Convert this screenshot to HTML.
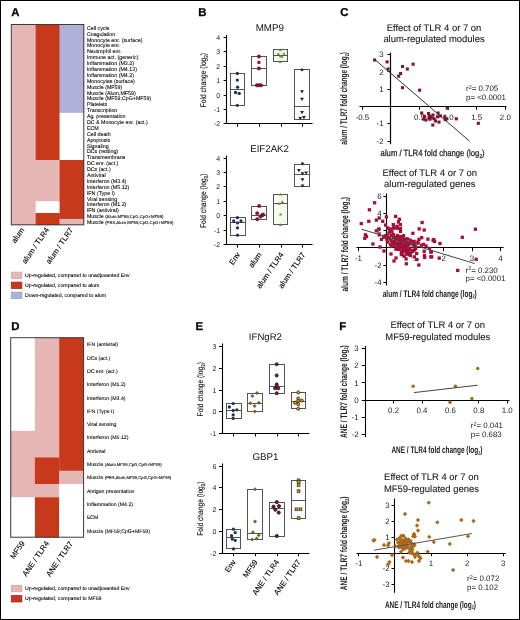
<!DOCTYPE html>
<html><head><meta charset="utf-8"><style>
html,body{margin:0;padding:0;background:#fff;}
svg{display:block;font-family:"Liberation Sans", sans-serif;will-change:transform;text-rendering:geometricPrecision;}
</style></head><body>
<svg width="520" height="620" viewBox="0 0 520 620">
<rect x="0" y="0" width="520" height="620" fill="#fff"/>
<text x="11.20" y="15.90" font-size="11.4" text-anchor="start" fill="#000" font-weight="bold" stroke="#000" stroke-width="0.25">A</text>
<text x="198.30" y="15.80" font-size="11.4" text-anchor="start" fill="#000" font-weight="bold" stroke="#000" stroke-width="0.25">B</text>
<text x="340.20" y="16.30" font-size="11.4" text-anchor="start" fill="#000" font-weight="bold" stroke="#000" stroke-width="0.25">C</text>
<text x="11.20" y="329.80" font-size="11.4" text-anchor="start" fill="#000" font-weight="bold" stroke="#000" stroke-width="0.25">D</text>
<text x="195.50" y="330.20" font-size="11.4" text-anchor="start" fill="#000" font-weight="bold" stroke="#000" stroke-width="0.25">E</text>
<text x="339.20" y="330.10" font-size="11.4" text-anchor="start" fill="#000" font-weight="bold" stroke="#000" stroke-width="0.25">F</text>
<rect x="11.30" y="24.50" width="24.70" height="200.60" fill="#E5B6B3"/>
<rect x="35.70" y="24.50" width="24.20" height="135.80" fill="#C7391B"/>
<rect x="35.70" y="160.00" width="24.20" height="41.54" fill="#E5B6B3"/>
<rect x="35.70" y="201.24" width="24.20" height="12.08" fill="#FFFFFF"/>
<rect x="35.70" y="213.02" width="24.20" height="12.08" fill="#C7391B"/>
<rect x="59.60" y="24.50" width="24.50" height="88.67" fill="#AEB2D8"/>
<rect x="59.60" y="112.87" width="24.50" height="47.43" fill="#FFFFFF"/>
<rect x="59.60" y="160.00" width="24.50" height="59.21" fill="#C7391B"/>
<rect x="59.60" y="218.91" width="24.50" height="6.19" fill="#E5B6B3"/>
<rect x="11.30" y="24.50" width="72.50" height="200.30" fill="none" stroke="#3a3a3a" stroke-width="1"/>
<text x="86.90" y="29.75" font-size="5.3" text-anchor="start" fill="#000" stroke="#000" stroke-width="0.08">Cell cycle</text>
<text x="86.90" y="35.64" font-size="5.3" text-anchor="start" fill="#000" stroke="#000" stroke-width="0.08">Coagulation</text>
<text x="86.90" y="41.53" font-size="5.3" text-anchor="start" fill="#000" stroke="#000" stroke-width="0.08">Monocyte enr. (surface)</text>
<text x="86.90" y="47.42" font-size="5.3" text-anchor="start" fill="#000" stroke="#000" stroke-width="0.08">Monocyte enr.</text>
<text x="86.90" y="53.31" font-size="5.3" text-anchor="start" fill="#000" stroke="#000" stroke-width="0.08">Neutrophil enr.</text>
<text x="86.90" y="59.20" font-size="5.3" text-anchor="start" fill="#000" stroke="#000" stroke-width="0.08">Immune act. (generic)</text>
<text x="86.90" y="65.09" font-size="5.3" text-anchor="start" fill="#000" stroke="#000" stroke-width="0.08">Inflammation (M3.2)</text>
<text x="86.90" y="70.98" font-size="5.3" text-anchor="start" fill="#000" stroke="#000" stroke-width="0.08">Inflammation (M4.13)</text>
<text x="86.90" y="76.88" font-size="5.3" text-anchor="start" fill="#000" stroke="#000" stroke-width="0.08">Inflammation (M4.2)</text>
<text x="86.90" y="82.77" font-size="5.3" text-anchor="start" fill="#000" stroke="#000" stroke-width="0.08">Monocytes (surface)</text>
<text x="86.90" y="88.66" font-size="5.3" text-anchor="start" fill="#000" stroke="#000" stroke-width="0.08">Muscle (MF59)</text>
<text x="86.90" y="94.55" font-size="5.3" text-anchor="start" fill="#000" stroke="#000" stroke-width="0.08">Muscle (Alum,MF59)</text>
<text x="86.90" y="100.44" font-size="5.3" text-anchor="start" fill="#000" stroke="#000" stroke-width="0.08">Muscle (MF59,CpG+MF59)</text>
<text x="86.90" y="106.33" font-size="5.3" text-anchor="start" fill="#000" stroke="#000" stroke-width="0.08">Platelets</text>
<text x="86.90" y="112.22" font-size="5.3" text-anchor="start" fill="#000" stroke="#000" stroke-width="0.08">Transcription</text>
<text x="86.90" y="118.11" font-size="5.3" text-anchor="start" fill="#000" stroke="#000" stroke-width="0.08">Ag. presentation</text>
<text x="86.90" y="124.00" font-size="5.3" text-anchor="start" fill="#000" stroke="#000" stroke-width="0.08">DC &amp; Monocyte enr. (act.)</text>
<text x="86.90" y="129.90" font-size="5.3" text-anchor="start" fill="#000" stroke="#000" stroke-width="0.08">ECM</text>
<text x="86.90" y="135.79" font-size="5.3" text-anchor="start" fill="#000" stroke="#000" stroke-width="0.08">Cell death</text>
<text x="86.90" y="141.68" font-size="5.3" text-anchor="start" fill="#000" stroke="#000" stroke-width="0.08">Apoptosis</text>
<text x="86.90" y="147.57" font-size="5.3" text-anchor="start" fill="#000" stroke="#000" stroke-width="0.08">Signaling</text>
<text x="86.90" y="153.46" font-size="5.3" text-anchor="start" fill="#000" stroke="#000" stroke-width="0.08">DCs (resting)</text>
<text x="86.90" y="159.35" font-size="5.3" text-anchor="start" fill="#000" stroke="#000" stroke-width="0.08">Transmembrane</text>
<text x="86.90" y="165.24" font-size="5.3" text-anchor="start" fill="#000" stroke="#000" stroke-width="0.08">DC enr. (act.)</text>
<text x="86.90" y="171.13" font-size="5.3" text-anchor="start" fill="#000" stroke="#000" stroke-width="0.08">DCs (act.)</text>
<text x="86.90" y="177.03" font-size="5.3" text-anchor="start" fill="#000" stroke="#000" stroke-width="0.08">Antiviral</text>
<text x="86.90" y="182.92" font-size="5.3" text-anchor="start" fill="#000" stroke="#000" stroke-width="0.08">Interferon (M3.4)</text>
<text x="86.90" y="188.81" font-size="5.3" text-anchor="start" fill="#000" stroke="#000" stroke-width="0.08">Interferon (M5.12)</text>
<text x="86.90" y="194.70" font-size="5.3" text-anchor="start" fill="#000" stroke="#000" stroke-width="0.08">IFN (Type I)</text>
<text x="86.90" y="200.59" font-size="5.3" text-anchor="start" fill="#000" stroke="#000" stroke-width="0.08">Viral sensing</text>
<text x="86.90" y="206.48" font-size="5.3" text-anchor="start" fill="#000" stroke="#000" stroke-width="0.08">Interferon (M1.2)</text>
<text x="86.90" y="212.37" font-size="5.3" text-anchor="start" fill="#000" stroke="#000" stroke-width="0.08">IFN (antiviral)</text>
<text x="86.90" y="218.26" font-size="5.3" text-anchor="start" fill="#000" stroke="#000" stroke-width="0.08">Muscle <tspan font-size="4.3">(Alum,MF59,CpG,CpG+MF59)</tspan></text>
<text x="86.90" y="224.15" font-size="5.3" text-anchor="start" fill="#000" stroke="#000" stroke-width="0.08">Muscle <tspan font-size="4.3">(PBS,Alum,MF59,CpG,CpG+MF59)</tspan></text>
<text x="24.60" y="230.00" font-size="7.7" text-anchor="end" fill="#000" transform="rotate(-55.5 24.60 230.00)" stroke="#000" stroke-width="0.12">alum</text>
<text x="49.50" y="229.80" font-size="7.7" text-anchor="end" fill="#000" transform="rotate(-55.5 49.50 229.80)" stroke="#000" stroke-width="0.12">alum / TLR4</text>
<text x="73.50" y="230.00" font-size="7.7" text-anchor="end" fill="#000" transform="rotate(-55.5 73.50 230.00)" stroke="#000" stroke-width="0.12">alum / TLR7</text>
<rect x="11.30" y="272.10" width="10.60" height="6.50" fill="#E5B6B3" stroke="#D4A2A2" stroke-width="0.7"/>
<text x="25.00" y="276.90" font-size="5.2" text-anchor="start" fill="#000" stroke="#000" stroke-width="0.1">Up-regulated, compared to unadjuvanted Env</text>
<rect x="11.30" y="282.10" width="10.60" height="6.50" fill="#C7391B" stroke="#9A2412" stroke-width="0.7"/>
<text x="25.00" y="286.90" font-size="5.2" text-anchor="start" fill="#000" stroke="#000" stroke-width="0.1">Up-regulated, compared to alum</text>
<rect x="11.30" y="292.10" width="10.60" height="6.50" fill="#AEB2D8" stroke="#9298C8" stroke-width="0.7"/>
<text x="25.00" y="296.90" font-size="5.2" text-anchor="start" fill="#000" stroke="#000" stroke-width="0.1">Down-regulated, compared to alum</text>
<rect x="10.70" y="337.70" width="24.50" height="93.40" fill="#FFFFFF"/>
<rect x="10.70" y="430.80" width="24.50" height="66.80" fill="#E5B6B3"/>
<rect x="10.70" y="497.30" width="24.50" height="40.20" fill="#FFFFFF"/>
<rect x="34.90" y="337.70" width="24.60" height="120.00" fill="#E5B6B3"/>
<rect x="34.90" y="457.40" width="24.60" height="26.90" fill="#C7391B"/>
<rect x="34.90" y="484.00" width="24.60" height="13.60" fill="#E5B6B3"/>
<rect x="34.90" y="497.30" width="24.60" height="40.20" fill="#C7391B"/>
<rect x="59.20" y="337.70" width="24.70" height="133.30" fill="#C7391B"/>
<rect x="59.20" y="470.70" width="24.70" height="13.60" fill="#E5B6B3"/>
<rect x="59.20" y="484.00" width="24.70" height="53.50" fill="#FFFFFF"/>
<rect x="10.70" y="337.70" width="72.90" height="199.50" fill="none" stroke="#3a3a3a" stroke-width="1"/>
<text x="86.90" y="346.30" font-size="5.2" text-anchor="start" fill="#000" stroke="#000" stroke-width="0.08">IFN (antiviral)</text>
<text x="86.90" y="359.60" font-size="5.2" text-anchor="start" fill="#000" stroke="#000" stroke-width="0.08">DCs (act.)</text>
<text x="86.90" y="372.90" font-size="5.2" text-anchor="start" fill="#000" stroke="#000" stroke-width="0.08">DC enr. (act.)</text>
<text x="86.90" y="386.20" font-size="5.2" text-anchor="start" fill="#000" stroke="#000" stroke-width="0.08">Interferon (M1.2)</text>
<text x="86.90" y="399.50" font-size="5.2" text-anchor="start" fill="#000" stroke="#000" stroke-width="0.08">Interferon (M3.4)</text>
<text x="86.90" y="412.80" font-size="5.2" text-anchor="start" fill="#000" stroke="#000" stroke-width="0.08">IFN (Type I)</text>
<text x="86.90" y="426.10" font-size="5.2" text-anchor="start" fill="#000" stroke="#000" stroke-width="0.08">Viral sensing</text>
<text x="86.90" y="439.40" font-size="5.2" text-anchor="start" fill="#000" stroke="#000" stroke-width="0.08">Interferon (M5.12)</text>
<text x="86.90" y="452.70" font-size="5.2" text-anchor="start" fill="#000" stroke="#000" stroke-width="0.08">Antiviral</text>
<text x="86.90" y="492.60" font-size="5.2" text-anchor="start" fill="#000" stroke="#000" stroke-width="0.08">Antigen presentation</text>
<text x="86.90" y="505.90" font-size="5.2" text-anchor="start" fill="#000" stroke="#000" stroke-width="0.08">Inflammation (M4.2)</text>
<text x="86.90" y="519.20" font-size="5.2" text-anchor="start" fill="#000" stroke="#000" stroke-width="0.08">ECM</text>
<text x="86.90" y="532.50" font-size="5.2" text-anchor="start" fill="#000" stroke="#000" stroke-width="0.08">Muscle (MF59;CpG+MF59)</text>
<text x="86.90" y="466.00" font-size="5.2" text-anchor="start" fill="#000" stroke="#000" stroke-width="0.08">Muscle <tspan font-size="4.2">(Alum,MF59,CpG,CpG+MF59)</tspan></text>
<text x="86.90" y="479.30" font-size="5.2" text-anchor="start" fill="#000" stroke="#000" stroke-width="0.08">Muscle <tspan font-size="4.2">(PBS,Alum,MF59,CpG,CpG+MF59)</tspan></text>
<text x="25.10" y="543.30" font-size="7.7" text-anchor="end" fill="#000" transform="rotate(-55.5 25.10 543.30)" stroke="#000" stroke-width="0.12">MF59</text>
<text x="49.40" y="543.30" font-size="7.7" text-anchor="end" fill="#000" transform="rotate(-55.5 49.40 543.30)" stroke="#000" stroke-width="0.12">ANE / TLR4</text>
<text x="73.20" y="543.60" font-size="7.7" text-anchor="end" fill="#000" transform="rotate(-55.5 73.20 543.60)" stroke="#000" stroke-width="0.12">ANE / TLR7</text>
<rect x="11.30" y="585.30" width="10.60" height="6.50" fill="#E5B6B3" stroke="#D4A2A2" stroke-width="0.7"/>
<text x="25.00" y="590.10" font-size="5.2" text-anchor="start" fill="#000" stroke="#000" stroke-width="0.1">Up-regulated, compared to unadjuvanted Env</text>
<rect x="11.30" y="595.50" width="10.60" height="6.50" fill="#C7391B" stroke="#9A2412" stroke-width="0.7"/>
<text x="25.00" y="600.30" font-size="5.2" text-anchor="start" fill="#000" stroke="#000" stroke-width="0.1">Up-regulated, compared to MF59</text>
<text x="269.80" y="30.60" font-size="9.8" text-anchor="middle" fill="#111">MMP9</text>
<line x1="226.50" y1="35.00" x2="226.50" y2="123.80" stroke="#000" stroke-width="1.1"/>
<line x1="223.60" y1="37.50" x2="226.80" y2="37.50" stroke="#000" stroke-width="1"/>
<text x="220.20" y="39.90" font-size="7.0" text-anchor="end" fill="#222">4</text>
<line x1="223.60" y1="51.50" x2="226.80" y2="51.50" stroke="#000" stroke-width="1"/>
<text x="220.20" y="54.30" font-size="7.0" text-anchor="end" fill="#222">3</text>
<line x1="223.60" y1="66.50" x2="226.80" y2="66.50" stroke="#000" stroke-width="1"/>
<text x="220.20" y="68.70" font-size="7.0" text-anchor="end" fill="#222">2</text>
<line x1="223.60" y1="80.50" x2="226.80" y2="80.50" stroke="#000" stroke-width="1"/>
<text x="220.20" y="83.10" font-size="7.0" text-anchor="end" fill="#222">1</text>
<line x1="223.60" y1="95.50" x2="226.80" y2="95.50" stroke="#000" stroke-width="1"/>
<text x="220.20" y="97.50" font-size="7.0" text-anchor="end" fill="#222">0</text>
<line x1="223.60" y1="109.50" x2="226.80" y2="109.50" stroke="#000" stroke-width="1"/>
<text x="220.20" y="111.90" font-size="7.0" text-anchor="end" fill="#222">-1</text>
<line x1="223.60" y1="123.50" x2="226.80" y2="123.50" stroke="#000" stroke-width="1"/>
<text x="220.20" y="126.30" font-size="7.0" text-anchor="end" fill="#222">-2</text>
<line x1="226.30" y1="123.50" x2="312.50" y2="123.50" stroke="#000" stroke-width="1.1"/>
<line x1="237.50" y1="123.80" x2="237.50" y2="126.80" stroke="#000" stroke-width="1"/>
<line x1="259.50" y1="123.80" x2="259.50" y2="126.80" stroke="#000" stroke-width="1"/>
<line x1="281.50" y1="123.80" x2="281.50" y2="126.80" stroke="#000" stroke-width="1"/>
<line x1="302.50" y1="123.80" x2="302.50" y2="126.80" stroke="#000" stroke-width="1"/>
<text x="206.20" y="80.10" font-size="8.2" text-anchor="middle" fill="#222" textLength="54.4" lengthAdjust="spacingAndGlyphs" transform="rotate(-90 206.20 80.10)" stroke="#222" stroke-width="0.15">Fold change (log<tspan font-size="5.6" dy="1.6">2</tspan><tspan dy="-1.6">)</tspan></text>
<rect x="230.50" y="73.50" width="14.00" height="32.00" fill="none" stroke="#555" stroke-width="1"/>
<line x1="230.50" y1="89.50" x2="244.50" y2="89.50" stroke="#555" stroke-width="1"/>
<circle cx="237.30" cy="73.50" r="1.65" fill="#1F3557"/>
<circle cx="237.30" cy="80.10" r="1.65" fill="#1F3557"/>
<circle cx="237.60" cy="87.20" r="1.65" fill="#1F3557"/>
<circle cx="235.50" cy="92.50" r="1.65" fill="#1F3557"/>
<circle cx="239.20" cy="93.40" r="1.65" fill="#1F3557"/>
<circle cx="237.30" cy="105.30" r="1.65" fill="#1F3557"/>
<rect x="251.50" y="56.50" width="15.00" height="29.00" fill="none" stroke="#555" stroke-width="1"/>
<line x1="251.50" y1="68.50" x2="266.50" y2="68.50" stroke="#555" stroke-width="1"/>
<circle cx="258.90" cy="56.60" r="1.75" fill="#8A1232" stroke="#5A0A22" stroke-width="0.4"/>
<rect x="257.40" y="60.90" width="3.00" height="3.00" fill="#8A1232"/>
<circle cx="258.90" cy="68.40" r="1.75" fill="#8A1232" stroke="#5A0A22" stroke-width="0.4"/>
<circle cx="256.90" cy="85.30" r="1.75" fill="#8A1232" stroke="#5A0A22" stroke-width="0.4"/>
<circle cx="259.00" cy="85.30" r="1.75" fill="#8A1232" stroke="#5A0A22" stroke-width="0.4"/>
<circle cx="261.10" cy="85.30" r="1.75" fill="#8A1232" stroke="#5A0A22" stroke-width="0.4"/>
<rect x="273.50" y="49.50" width="14.00" height="12.00" fill="#F1F8EA" stroke="#555" stroke-width="1"/>
<line x1="273.50" y1="55.50" x2="287.50" y2="55.50" stroke="#555" stroke-width="1"/>
<polygon points="278.70,51.08 281.90,51.08 280.30,48.36" fill="#5E9438"/>
<polygon points="276.70,54.88 279.90,54.88 278.30,52.16" fill="#5E9438"/>
<polygon points="282.40,54.68 285.60,54.68 284.00,51.96" fill="#5E9438"/>
<polygon points="278.70,57.28 281.90,57.28 280.30,54.56" fill="#5E9438"/>
<polygon points="280.40,57.68 283.60,57.68 282.00,54.96" fill="#5E9438"/>
<polygon points="278.70,62.88 281.90,62.88 280.30,60.16" fill="#5E9438"/>
<rect x="294.50" y="69.50" width="15.00" height="50.00" fill="none" stroke="#555" stroke-width="1"/>
<line x1="294.50" y1="106.50" x2="309.50" y2="106.50" stroke="#555" stroke-width="1"/>
<circle cx="302.00" cy="69.80" r="1.4" fill="#2E1236"/>
<polygon points="300.10,90.28 303.90,90.28 302.00,93.51" fill="#2E1236"/>
<polygon points="300.10,97.68 303.90,97.68 302.00,100.91" fill="#2E1236"/>
<polygon points="300.10,111.08 303.90,111.08 302.00,114.31" fill="#2E1236"/>
<polygon points="298.30,116.88 302.10,116.88 300.20,120.11" fill="#2E1236"/>
<polygon points="302.00,116.08 305.80,116.08 303.90,119.31" fill="#2E1236"/>
<text x="269.60" y="151.60" font-size="9.7" text-anchor="middle" fill="#111">EIF2AK2</text>
<line x1="226.50" y1="155.50" x2="226.50" y2="244.60" stroke="#000" stroke-width="1.1"/>
<line x1="223.60" y1="158.50" x2="226.80" y2="158.50" stroke="#000" stroke-width="1"/>
<text x="220.20" y="160.52" font-size="7.0" text-anchor="end" fill="#222">4</text>
<line x1="223.60" y1="172.50" x2="226.80" y2="172.50" stroke="#000" stroke-width="1"/>
<text x="220.20" y="174.94" font-size="7.0" text-anchor="end" fill="#222">3</text>
<line x1="223.60" y1="186.50" x2="226.80" y2="186.50" stroke="#000" stroke-width="1"/>
<text x="220.20" y="189.36" font-size="7.0" text-anchor="end" fill="#222">2</text>
<line x1="223.60" y1="201.50" x2="226.80" y2="201.50" stroke="#000" stroke-width="1"/>
<text x="220.20" y="203.78" font-size="7.0" text-anchor="end" fill="#222">1</text>
<line x1="223.60" y1="215.50" x2="226.80" y2="215.50" stroke="#000" stroke-width="1"/>
<text x="220.20" y="218.20" font-size="7.0" text-anchor="end" fill="#222">0</text>
<line x1="223.60" y1="230.50" x2="226.80" y2="230.50" stroke="#000" stroke-width="1"/>
<text x="220.20" y="232.62" font-size="7.0" text-anchor="end" fill="#222">-1</text>
<line x1="223.60" y1="244.50" x2="226.80" y2="244.50" stroke="#000" stroke-width="1"/>
<text x="220.20" y="247.04" font-size="7.0" text-anchor="end" fill="#222">-2</text>
<line x1="226.30" y1="244.50" x2="312.50" y2="244.50" stroke="#000" stroke-width="1.1"/>
<line x1="237.50" y1="244.60" x2="237.50" y2="247.60" stroke="#000" stroke-width="1"/>
<line x1="259.50" y1="244.60" x2="259.50" y2="247.60" stroke="#000" stroke-width="1"/>
<line x1="281.50" y1="244.60" x2="281.50" y2="247.60" stroke="#000" stroke-width="1"/>
<line x1="302.50" y1="244.60" x2="302.50" y2="247.60" stroke="#000" stroke-width="1"/>
<text x="206.20" y="200.80" font-size="8.2" text-anchor="middle" fill="#222" textLength="54.4" lengthAdjust="spacingAndGlyphs" transform="rotate(-90 206.20 200.80)" stroke="#222" stroke-width="0.15">Fold change (log<tspan font-size="5.6" dy="1.6">2</tspan><tspan dy="-1.6">)</tspan></text>
<rect x="230.50" y="217.50" width="15.00" height="18.00" fill="none" stroke="#555" stroke-width="1"/>
<line x1="230.50" y1="222.50" x2="245.50" y2="222.50" stroke="#555" stroke-width="1"/>
<circle cx="237.50" cy="217.70" r="1.65" fill="#1F3557"/>
<circle cx="233.70" cy="221.00" r="1.65" fill="#1F3557"/>
<circle cx="241.00" cy="221.00" r="1.65" fill="#1F3557"/>
<circle cx="237.50" cy="222.90" r="1.65" fill="#1F3557"/>
<circle cx="237.50" cy="227.90" r="1.65" fill="#1F3557"/>
<circle cx="237.50" cy="235.20" r="1.65" fill="#1F3557"/>
<rect x="251.50" y="206.50" width="15.00" height="13.00" fill="none" stroke="#555" stroke-width="1"/>
<line x1="251.50" y1="215.50" x2="266.50" y2="215.50" stroke="#555" stroke-width="1"/>
<circle cx="259.20" cy="206.00" r="1.75" fill="#8A1232" stroke="#5A0A22" stroke-width="0.4"/>
<circle cx="257.20" cy="213.30" r="1.75" fill="#8A1232" stroke="#5A0A22" stroke-width="0.4"/>
<circle cx="262.20" cy="215.30" r="1.75" fill="#8A1232" stroke="#5A0A22" stroke-width="0.4"/>
<circle cx="260.50" cy="216.60" r="1.75" fill="#8A1232" stroke="#5A0A22" stroke-width="0.4"/>
<circle cx="257.20" cy="219.20" r="1.75" fill="#8A1232" stroke="#5A0A22" stroke-width="0.4"/>
<circle cx="263.00" cy="214.60" r="1.75" fill="#8A1232" stroke="#5A0A22" stroke-width="0.4"/>
<rect x="273.50" y="194.50" width="14.00" height="30.00" fill="#F8FAF0" stroke="#555" stroke-width="1"/>
<line x1="273.50" y1="203.50" x2="287.50" y2="203.50" stroke="#555" stroke-width="1"/>
<polygon points="278.90,195.58 282.10,195.58 280.50,192.86" fill="#5E9438"/>
<polygon points="280.70,202.88 283.90,202.88 282.30,200.16" fill="#5E9438"/>
<polygon points="277.30,204.68 280.50,204.68 278.90,201.96" fill="#5E9438"/>
<polygon points="278.90,215.58 282.10,215.58 280.50,212.86" fill="#5E9438"/>
<polygon points="278.90,225.88 282.10,225.88 280.50,223.16" fill="#5E9438"/>
<rect x="294.50" y="164.50" width="15.00" height="22.00" fill="none" stroke="#555" stroke-width="1"/>
<line x1="294.50" y1="174.50" x2="309.50" y2="174.50" stroke="#555" stroke-width="1"/>
<polygon points="300.60,162.58 304.40,162.58 302.50,165.81" fill="#2E1236"/>
<polygon points="297.00,168.98 300.80,168.98 298.90,172.21" fill="#2E1236"/>
<polygon points="300.60,172.28 304.40,172.28 302.50,175.51" fill="#2E1236"/>
<polygon points="304.20,171.38 308.00,171.38 306.10,174.61" fill="#2E1236"/>
<polygon points="300.60,178.28 304.40,178.28 302.50,181.51" fill="#2E1236"/>
<polygon points="300.60,184.38 304.40,184.38 302.50,187.61" fill="#2E1236"/>
<text x="240.50" y="254.60" font-size="7.7" text-anchor="end" fill="#000" transform="rotate(-55.5 240.50 254.60)" stroke="#000" stroke-width="0.12">Env</text>
<text x="262.00" y="254.60" font-size="7.7" text-anchor="end" fill="#000" transform="rotate(-55.5 262.00 254.60)" stroke="#000" stroke-width="0.12">alum</text>
<text x="284.00" y="254.60" font-size="7.7" text-anchor="end" fill="#000" transform="rotate(-55.5 284.00 254.60)" stroke="#000" stroke-width="0.12">alum / TLR4</text>
<text x="305.80" y="254.60" font-size="7.7" text-anchor="end" fill="#000" transform="rotate(-55.5 305.80 254.60)" stroke="#000" stroke-width="0.12">alum / TLR7</text>
<text x="265.40" y="339.80" font-size="9.6" text-anchor="middle" fill="#111">IFNgR2</text>
<line x1="222.50" y1="343.50" x2="222.50" y2="433.50" stroke="#000" stroke-width="1.1"/>
<line x1="218.90" y1="346.50" x2="222.10" y2="346.50" stroke="#000" stroke-width="1"/>
<text x="216.30" y="349.05" font-size="7.0" text-anchor="end" fill="#222">3</text>
<line x1="218.90" y1="368.50" x2="222.10" y2="368.50" stroke="#000" stroke-width="1"/>
<text x="216.30" y="370.80" font-size="7.0" text-anchor="end" fill="#222">2</text>
<line x1="218.90" y1="390.50" x2="222.10" y2="390.50" stroke="#000" stroke-width="1"/>
<text x="216.30" y="392.55" font-size="7.0" text-anchor="end" fill="#222">1</text>
<line x1="218.90" y1="411.50" x2="222.10" y2="411.50" stroke="#000" stroke-width="1"/>
<text x="216.30" y="414.30" font-size="7.0" text-anchor="end" fill="#222">0</text>
<line x1="218.90" y1="433.50" x2="222.10" y2="433.50" stroke="#000" stroke-width="1"/>
<text x="216.30" y="436.05" font-size="7.0" text-anchor="end" fill="#222">-1</text>
<line x1="221.60" y1="433.50" x2="309.50" y2="433.50" stroke="#000" stroke-width="1.1"/>
<line x1="233.50" y1="433.50" x2="233.50" y2="436.50" stroke="#000" stroke-width="1"/>
<line x1="255.50" y1="433.50" x2="255.50" y2="436.50" stroke="#000" stroke-width="1"/>
<line x1="277.50" y1="433.50" x2="277.50" y2="436.50" stroke="#000" stroke-width="1"/>
<line x1="298.50" y1="433.50" x2="298.50" y2="436.50" stroke="#000" stroke-width="1"/>
<text x="203.30" y="389.20" font-size="8.2" text-anchor="middle" fill="#222" textLength="54.4" lengthAdjust="spacingAndGlyphs" transform="rotate(-90 203.30 389.20)" stroke="#222" stroke-width="0.15">Fold change (log<tspan font-size="5.6" dy="1.6">2</tspan><tspan dy="-1.6">)</tspan></text>
<rect x="226.50" y="403.50" width="15.00" height="15.00" fill="none" stroke="#555" stroke-width="1"/>
<line x1="226.50" y1="410.50" x2="241.50" y2="410.50" stroke="#555" stroke-width="1"/>
<circle cx="233.20" cy="403.60" r="1.65" fill="#1F3557"/>
<circle cx="229.40" cy="407.00" r="1.65" fill="#1F3557"/>
<circle cx="233.20" cy="410.50" r="1.65" fill="#1F3557"/>
<circle cx="236.90" cy="409.80" r="1.65" fill="#1F3557"/>
<circle cx="233.20" cy="414.90" r="1.65" fill="#1F3557"/>
<circle cx="233.20" cy="418.40" r="1.65" fill="#1F3557"/>
<rect x="247.50" y="393.50" width="15.00" height="18.00" fill="none" stroke="#555" stroke-width="1"/>
<line x1="247.50" y1="403.50" x2="262.50" y2="403.50" stroke="#555" stroke-width="1"/>
<polygon points="257.00,391.00 259.00,393.00 257.00,395.00 255.00,393.00" fill="#7A6128"/>
<polygon points="252.40,394.10 254.40,396.10 252.40,398.10 250.40,396.10" fill="#7A6128"/>
<polygon points="250.40,401.30 252.40,403.30 250.40,405.30 248.40,403.30" fill="#7A6128"/>
<polygon points="258.90,400.80 260.90,402.80 258.90,404.80 256.90,402.80" fill="#7A6128"/>
<polygon points="254.60,403.90 256.60,405.90 254.60,407.90 252.60,405.90" fill="#7A6128"/>
<polygon points="254.90,409.50 256.90,411.50 254.90,413.50 252.90,411.50" fill="#7A6128"/>
<rect x="269.50" y="364.50" width="15.00" height="29.00" fill="none" stroke="#555" stroke-width="1"/>
<line x1="269.50" y1="386.50" x2="284.50" y2="386.50" stroke="#555" stroke-width="1"/>
<circle cx="276.70" cy="364.20" r="1.55" fill="#7A2456" stroke="#2A0818" stroke-width="0.8"/>
<circle cx="276.70" cy="375.40" r="1.55" fill="#7A2456" stroke="#2A0818" stroke-width="0.8"/>
<circle cx="276.70" cy="384.40" r="1.55" fill="#7A2456" stroke="#2A0818" stroke-width="0.8"/>
<circle cx="275.10" cy="388.30" r="1.55" fill="#7A2456" stroke="#2A0818" stroke-width="0.8"/>
<circle cx="278.20" cy="388.30" r="1.55" fill="#7A2456" stroke="#2A0818" stroke-width="0.8"/>
<circle cx="276.70" cy="386.40" r="1.55" fill="#7A2456" stroke="#2A0818" stroke-width="0.8"/>
<circle cx="276.70" cy="393.30" r="1.55" fill="#7A2456" stroke="#2A0818" stroke-width="0.8"/>
<rect x="291.50" y="392.50" width="14.00" height="16.00" fill="none" stroke="#555" stroke-width="1"/>
<line x1="291.50" y1="401.50" x2="305.50" y2="401.50" stroke="#555" stroke-width="1"/>
<circle cx="298.20" cy="392.50" r="1.55" fill="#C8962E" stroke="#3A2A10" stroke-width="0.8"/>
<circle cx="298.20" cy="398.50" r="1.55" fill="#C8962E" stroke="#3A2A10" stroke-width="0.8"/>
<circle cx="295.00" cy="402.70" r="1.55" fill="#C8962E" stroke="#3A2A10" stroke-width="0.8"/>
<circle cx="298.20" cy="401.10" r="1.55" fill="#C8962E" stroke="#3A2A10" stroke-width="0.8"/>
<circle cx="301.80" cy="400.60" r="1.55" fill="#C8962E" stroke="#3A2A10" stroke-width="0.8"/>
<circle cx="298.20" cy="404.30" r="1.55" fill="#C8962E" stroke="#3A2A10" stroke-width="0.8"/>
<circle cx="298.20" cy="408.70" r="1.55" fill="#C8962E" stroke="#3A2A10" stroke-width="0.8"/>
<text x="265.50" y="460.10" font-size="9.8" text-anchor="middle" fill="#111">GBP1</text>
<line x1="222.50" y1="463.50" x2="222.50" y2="553.20" stroke="#000" stroke-width="1.1"/>
<line x1="218.90" y1="466.50" x2="222.10" y2="466.50" stroke="#000" stroke-width="1"/>
<text x="216.30" y="468.60" font-size="7.0" text-anchor="end" fill="#222">6</text>
<line x1="218.90" y1="487.50" x2="222.10" y2="487.50" stroke="#000" stroke-width="1"/>
<text x="216.30" y="490.40" font-size="7.0" text-anchor="end" fill="#222">4</text>
<line x1="218.90" y1="509.50" x2="222.10" y2="509.50" stroke="#000" stroke-width="1"/>
<text x="216.30" y="512.20" font-size="7.0" text-anchor="end" fill="#222">2</text>
<line x1="218.90" y1="531.50" x2="222.10" y2="531.50" stroke="#000" stroke-width="1"/>
<text x="216.30" y="534.00" font-size="7.0" text-anchor="end" fill="#222">0</text>
<line x1="218.90" y1="553.50" x2="222.10" y2="553.50" stroke="#000" stroke-width="1"/>
<text x="216.30" y="555.80" font-size="7.0" text-anchor="end" fill="#222">-2</text>
<line x1="221.60" y1="553.50" x2="309.50" y2="553.50" stroke="#000" stroke-width="1.1"/>
<line x1="233.50" y1="553.20" x2="233.50" y2="556.20" stroke="#000" stroke-width="1"/>
<line x1="255.50" y1="553.20" x2="255.50" y2="556.20" stroke="#000" stroke-width="1"/>
<line x1="277.50" y1="553.20" x2="277.50" y2="556.20" stroke="#000" stroke-width="1"/>
<line x1="298.50" y1="553.20" x2="298.50" y2="556.20" stroke="#000" stroke-width="1"/>
<text x="203.30" y="508.60" font-size="8.2" text-anchor="middle" fill="#222" textLength="54.4" lengthAdjust="spacingAndGlyphs" transform="rotate(-90 203.30 508.60)" stroke="#222" stroke-width="0.15">Fold change (log<tspan font-size="5.6" dy="1.6">2</tspan><tspan dy="-1.6">)</tspan></text>
<rect x="226.50" y="529.50" width="14.00" height="19.00" fill="none" stroke="#555" stroke-width="1"/>
<line x1="226.50" y1="537.50" x2="240.50" y2="537.50" stroke="#555" stroke-width="1"/>
<circle cx="233.50" cy="529.20" r="1.65" fill="#1F3557"/>
<circle cx="235.20" cy="532.60" r="1.65" fill="#1F3557"/>
<circle cx="231.60" cy="535.70" r="1.65" fill="#1F3557"/>
<circle cx="232.20" cy="539.00" r="1.65" fill="#1F3557"/>
<circle cx="235.20" cy="540.30" r="1.65" fill="#1F3557"/>
<circle cx="233.50" cy="548.90" r="1.65" fill="#1F3557"/>
<rect x="247.50" y="489.50" width="15.00" height="50.00" fill="none" stroke="#555" stroke-width="1"/>
<line x1="247.50" y1="533.50" x2="262.50" y2="533.50" stroke="#555" stroke-width="1"/>
<polygon points="255.00,487.30 257.00,489.30 255.00,491.30 253.00,489.30" fill="#7A6128"/>
<polygon points="255.00,519.50 257.00,521.50 255.00,523.50 253.00,521.50" fill="#7A6128"/>
<polygon points="252.90,530.20 254.90,532.20 252.90,534.20 250.90,532.20" fill="#7A6128"/>
<polygon points="258.70,533.20 260.70,535.20 258.70,537.20 256.70,535.20" fill="#7A6128"/>
<polygon points="252.20,537.50 254.20,539.50 252.20,541.50 250.20,539.50" fill="#7A6128"/>
<polygon points="256.70,536.60 258.70,538.60 256.70,540.60 254.70,538.60" fill="#7A6128"/>
<rect x="269.50" y="502.50" width="15.00" height="34.00" fill="none" stroke="#555" stroke-width="1"/>
<line x1="269.50" y1="508.50" x2="284.50" y2="508.50" stroke="#555" stroke-width="1"/>
<circle cx="276.80" cy="502.10" r="1.6" fill="#6A1A4A" stroke="#2A0818" stroke-width="0.8"/>
<circle cx="279.00" cy="506.10" r="1.6" fill="#6A1A4A" stroke="#2A0818" stroke-width="0.8"/>
<circle cx="273.50" cy="506.60" r="1.6" fill="#6A1A4A" stroke="#2A0818" stroke-width="0.8"/>
<circle cx="275.30" cy="509.70" r="1.6" fill="#6A1A4A" stroke="#2A0818" stroke-width="0.8"/>
<circle cx="278.70" cy="512.60" r="1.6" fill="#6A1A4A" stroke="#2A0818" stroke-width="0.8"/>
<circle cx="276.80" cy="536.00" r="1.6" fill="#6A1A4A" stroke="#2A0818" stroke-width="0.8"/>
<rect x="291.50" y="480.50" width="14.00" height="38.00" fill="none" stroke="#555" stroke-width="1"/>
<line x1="291.50" y1="500.50" x2="305.50" y2="500.50" stroke="#555" stroke-width="1"/>
<rect x="297.20" y="478.90" width="2.80" height="2.80" fill="#C8962E" stroke="#3A2A10" stroke-width="0.7"/>
<rect x="297.20" y="480.70" width="2.80" height="2.80" fill="#C8962E" stroke="#3A2A10" stroke-width="0.7"/>
<rect x="297.20" y="483.70" width="2.80" height="2.80" fill="#C8962E" stroke="#3A2A10" stroke-width="0.7"/>
<rect x="297.20" y="489.80" width="2.80" height="2.80" fill="#C8962E" stroke="#3A2A10" stroke-width="0.7"/>
<rect x="295.10" y="507.90" width="2.80" height="2.80" fill="#C8962E" stroke="#3A2A10" stroke-width="0.7"/>
<rect x="299.10" y="507.90" width="2.80" height="2.80" fill="#C8962E" stroke="#3A2A10" stroke-width="0.7"/>
<rect x="297.20" y="516.80" width="2.80" height="2.80" fill="#C8962E" stroke="#3A2A10" stroke-width="0.7"/>
<text x="236.20" y="562.00" font-size="7.7" text-anchor="end" fill="#000" transform="rotate(-55.5 236.20 562.00)" stroke="#000" stroke-width="0.12">Env</text>
<text x="258.00" y="562.00" font-size="7.7" text-anchor="end" fill="#000" transform="rotate(-55.5 258.00 562.00)" stroke="#000" stroke-width="0.12">MF59</text>
<text x="279.30" y="562.00" font-size="7.7" text-anchor="end" fill="#000" transform="rotate(-55.5 279.30 562.00)" stroke="#000" stroke-width="0.12">ANE / TLR4</text>
<text x="301.00" y="562.00" font-size="7.7" text-anchor="end" fill="#000" transform="rotate(-55.5 301.00 562.00)" stroke="#000" stroke-width="0.12">ANE / TLR7</text>
<text x="434.00" y="30.60" font-size="9.45" text-anchor="middle" fill="#1a1a1a" stroke="#1a1a1a" stroke-width="0.1">Effect of TLR 4 or 7 on</text>
<text x="434.00" y="41.70" font-size="9.45" text-anchor="middle" fill="#1a1a1a" stroke="#1a1a1a" stroke-width="0.1">alum-regulated modules</text>
<line x1="390.50" y1="52.50" x2="390.50" y2="144.20" stroke="#000" stroke-width="1.2"/>
<line x1="387.40" y1="54.50" x2="390.80" y2="54.50" stroke="#000" stroke-width="1"/>
<text x="383.60" y="57.20" font-size="7.9" text-anchor="end" fill="#222">3</text>
<line x1="387.40" y1="71.50" x2="390.80" y2="71.50" stroke="#000" stroke-width="1"/>
<text x="383.60" y="74.50" font-size="7.9" text-anchor="end" fill="#222">2</text>
<line x1="387.40" y1="89.50" x2="390.80" y2="89.50" stroke="#000" stroke-width="1"/>
<text x="383.60" y="91.80" font-size="7.9" text-anchor="end" fill="#222">1</text>
<line x1="387.40" y1="123.50" x2="390.80" y2="123.50" stroke="#000" stroke-width="1"/>
<text x="383.60" y="126.40" font-size="7.9" text-anchor="end" fill="#222">-1</text>
<line x1="387.40" y1="141.50" x2="390.80" y2="141.50" stroke="#000" stroke-width="1"/>
<text x="383.60" y="143.70" font-size="7.9" text-anchor="end" fill="#222">-2</text>
<line x1="359.50" y1="106.50" x2="506.50" y2="106.50" stroke="#000" stroke-width="1.1"/>
<line x1="362.50" y1="106.50" x2="362.50" y2="109.80" stroke="#000" stroke-width="1"/>
<text x="362.43" y="119.50" font-size="7.9" text-anchor="middle" fill="#222">-0.5</text>
<line x1="419.50" y1="106.50" x2="419.50" y2="109.80" stroke="#000" stroke-width="1"/>
<text x="419.57" y="119.50" font-size="7.9" text-anchor="middle" fill="#222">0.5</text>
<line x1="448.50" y1="106.50" x2="448.50" y2="109.80" stroke="#000" stroke-width="1"/>
<text x="448.15" y="119.50" font-size="7.9" text-anchor="middle" fill="#222">1.0</text>
<line x1="476.50" y1="106.50" x2="476.50" y2="109.80" stroke="#000" stroke-width="1"/>
<text x="476.73" y="119.50" font-size="7.9" text-anchor="middle" fill="#222">1.5</text>
<line x1="505.50" y1="106.50" x2="505.50" y2="109.80" stroke="#000" stroke-width="1"/>
<text x="505.30" y="119.50" font-size="7.9" text-anchor="middle" fill="#222">2.0</text>
<rect x="373.05" y="58.45" width="3.10" height="3.10" fill="#7E1430"/>
<rect x="385.55" y="60.35" width="3.10" height="3.10" fill="#7E1430"/>
<rect x="386.55" y="67.45" width="3.10" height="3.10" fill="#7E1430"/>
<rect x="400.95" y="64.95" width="3.10" height="3.10" fill="#7E1430"/>
<rect x="405.75" y="67.45" width="3.10" height="3.10" fill="#7E1430"/>
<rect x="411.55" y="62.65" width="3.10" height="3.10" fill="#7E1430"/>
<rect x="399.05" y="71.95" width="3.10" height="3.10" fill="#7E1430"/>
<rect x="397.15" y="74.65" width="3.10" height="3.10" fill="#7E1430"/>
<rect x="400.95" y="86.15" width="3.10" height="3.10" fill="#7E1430"/>
<rect x="418.05" y="88.65" width="3.10" height="3.10" fill="#7E1430"/>
<rect x="420.15" y="111.45" width="3.10" height="3.10" fill="#7E1430"/>
<rect x="422.15" y="117.65" width="3.10" height="3.10" fill="#7E1430"/>
<rect x="426.95" y="111.95" width="3.10" height="3.10" fill="#7E1430"/>
<rect x="427.85" y="114.35" width="3.10" height="3.10" fill="#7E1430"/>
<rect x="428.35" y="117.65" width="3.10" height="3.10" fill="#7E1430"/>
<rect x="430.25" y="116.25" width="3.10" height="3.10" fill="#7E1430"/>
<rect x="432.65" y="117.25" width="3.10" height="3.10" fill="#7E1430"/>
<rect x="436.55" y="111.45" width="3.10" height="3.10" fill="#7E1430"/>
<rect x="436.05" y="115.25" width="3.10" height="3.10" fill="#7E1430"/>
<rect x="438.95" y="114.35" width="3.10" height="3.10" fill="#7E1430"/>
<rect x="437.45" y="120.55" width="3.10" height="3.10" fill="#7E1430"/>
<rect x="431.25" y="123.45" width="3.10" height="3.10" fill="#7E1430"/>
<rect x="443.25" y="115.25" width="3.10" height="3.10" fill="#7E1430"/>
<rect x="443.75" y="118.15" width="3.10" height="3.10" fill="#7E1430"/>
<rect x="445.15" y="117.25" width="3.10" height="3.10" fill="#7E1430"/>
<rect x="445.65" y="106.65" width="3.10" height="3.10" fill="#7E1430"/>
<rect x="454.75" y="117.25" width="3.10" height="3.10" fill="#7E1430"/>
<rect x="428.85" y="115.25" width="3.10" height="3.10" fill="#7E1430"/>
<rect x="427.45" y="116.25" width="3.10" height="3.10" fill="#7E1430"/>
<rect x="476.75" y="121.75" width="3.10" height="3.10" fill="#7E1430"/>
<rect x="422.95" y="114.95" width="3.10" height="3.10" fill="#7E1430"/>
<rect x="424.45" y="118.45" width="3.10" height="3.10" fill="#7E1430"/>
<rect x="431.45" y="113.45" width="3.10" height="3.10" fill="#7E1430"/>
<rect x="433.95" y="119.45" width="3.10" height="3.10" fill="#7E1430"/>
<line x1="374.60" y1="59.40" x2="469.60" y2="141.20" stroke="#333" stroke-width="1"/>
<text x="466.00" y="91.20" font-size="7.9" text-anchor="start" fill="#222">r<tspan font-size="5.4" dy="-2.5">2</tspan><tspan dy="2.5">= 0.705</tspan></text>
<text x="466.00" y="99.80" font-size="7.9" text-anchor="start" fill="#222">p= &lt;0.0001</text>
<text x="432.60" y="156.00" font-size="9.0" text-anchor="middle" fill="#222" textLength="104" lengthAdjust="spacingAndGlyphs" stroke="#222" stroke-width="0.25">alum / TLR4 fold change (log<tspan font-size="5.5" dy="1.8">2</tspan><tspan dy="-1.8">)</tspan></text>
<text x="347.30" y="98.40" font-size="9.6" text-anchor="middle" fill="#222" font-weight="bold" textLength="92.5" lengthAdjust="spacingAndGlyphs" transform="rotate(-90 347.30 98.40)">alum / TLR7 fold change (log<tspan font-size="5.5" dy="1.8">2</tspan><tspan dy="-1.8">)</tspan></text>
<text x="429.75" y="175.60" font-size="9.45" text-anchor="middle" fill="#1a1a1a" stroke="#1a1a1a" stroke-width="0.1">Effect of TLR 4 or 7 on</text>
<text x="429.75" y="187.20" font-size="9.45" text-anchor="middle" fill="#1a1a1a" stroke="#1a1a1a" stroke-width="0.1">alum-regulated genes</text>
<line x1="386.50" y1="193.50" x2="386.50" y2="285.50" stroke="#000" stroke-width="1.1"/>
<line x1="383.40" y1="196.50" x2="386.80" y2="196.50" stroke="#000" stroke-width="1"/>
<text x="381.60" y="198.90" font-size="7.9" text-anchor="end" fill="#222">6</text>
<line x1="383.40" y1="213.50" x2="386.80" y2="213.50" stroke="#000" stroke-width="1"/>
<text x="381.60" y="216.10" font-size="7.9" text-anchor="end" fill="#222">4</text>
<line x1="383.40" y1="230.50" x2="386.80" y2="230.50" stroke="#000" stroke-width="1"/>
<text x="381.60" y="233.30" font-size="7.9" text-anchor="end" fill="#222">2</text>
<line x1="383.40" y1="265.50" x2="386.80" y2="265.50" stroke="#000" stroke-width="1"/>
<text x="381.60" y="267.70" font-size="7.9" text-anchor="end" fill="#222">-2</text>
<line x1="383.40" y1="282.50" x2="386.80" y2="282.50" stroke="#000" stroke-width="1"/>
<text x="381.60" y="284.90" font-size="7.9" text-anchor="end" fill="#222">-4</text>
<line x1="356.50" y1="247.50" x2="503.50" y2="247.50" stroke="#000" stroke-width="1.1"/>
<line x1="358.50" y1="247.90" x2="358.50" y2="251.20" stroke="#000" stroke-width="1"/>
<text x="358.40" y="261.40" font-size="7.9" text-anchor="middle" fill="#222">-1</text>
<line x1="415.50" y1="247.90" x2="415.50" y2="251.20" stroke="#000" stroke-width="1"/>
<text x="415.20" y="261.40" font-size="7.9" text-anchor="middle" fill="#222">1</text>
<line x1="443.50" y1="247.90" x2="443.50" y2="251.20" stroke="#000" stroke-width="1"/>
<text x="443.60" y="261.40" font-size="7.9" text-anchor="middle" fill="#222">2</text>
<line x1="472.50" y1="247.90" x2="472.50" y2="251.20" stroke="#000" stroke-width="1"/>
<text x="472.00" y="261.40" font-size="7.9" text-anchor="middle" fill="#222">3</text>
<line x1="500.50" y1="247.90" x2="500.50" y2="251.20" stroke="#000" stroke-width="1"/>
<text x="500.40" y="261.40" font-size="7.9" text-anchor="middle" fill="#222">4</text>
<rect x="372.95" y="201.15" width="3.30" height="3.30" fill="#A3113A"/>
<rect x="367.75" y="208.15" width="3.30" height="3.30" fill="#A3113A"/>
<rect x="377.55" y="216.35" width="3.30" height="3.30" fill="#A3113A"/>
<rect x="374.65" y="218.45" width="3.30" height="3.30" fill="#A3113A"/>
<rect x="381.05" y="219.65" width="3.30" height="3.30" fill="#A3113A"/>
<rect x="367.15" y="219.65" width="3.30" height="3.30" fill="#A3113A"/>
<rect x="359.65" y="221.95" width="3.30" height="3.30" fill="#A3113A"/>
<rect x="384.75" y="215.25" width="3.30" height="3.30" fill="#A3113A"/>
<rect x="363.15" y="236.65" width="3.30" height="3.30" fill="#A3113A"/>
<rect x="371.25" y="242.35" width="3.30" height="3.30" fill="#A3113A"/>
<rect x="377.55" y="233.15" width="3.30" height="3.30" fill="#A3113A"/>
<rect x="379.85" y="237.75" width="3.30" height="3.30" fill="#A3113A"/>
<rect x="363.75" y="233.15" width="3.30" height="3.30" fill="#A3113A"/>
<rect x="364.85" y="234.85" width="3.30" height="3.30" fill="#A3113A"/>
<rect x="376.95" y="227.35" width="3.30" height="3.30" fill="#A3113A"/>
<rect x="374.65" y="229.15" width="3.30" height="3.30" fill="#A3113A"/>
<rect x="473.75" y="227.55" width="3.30" height="3.30" fill="#A3113A"/>
<rect x="460.65" y="235.65" width="3.30" height="3.30" fill="#A3113A"/>
<rect x="432.15" y="237.95" width="3.30" height="3.30" fill="#A3113A"/>
<rect x="432.95" y="239.85" width="3.30" height="3.30" fill="#A3113A"/>
<rect x="438.35" y="241.85" width="3.30" height="3.30" fill="#A3113A"/>
<rect x="429.15" y="250.25" width="3.30" height="3.30" fill="#A3113A"/>
<rect x="429.15" y="255.15" width="3.30" height="3.30" fill="#A3113A"/>
<rect x="437.55" y="256.45" width="3.30" height="3.30" fill="#A3113A"/>
<rect x="474.55" y="257.65" width="3.30" height="3.30" fill="#A3113A"/>
<rect x="456.05" y="268.75" width="3.30" height="3.30" fill="#A3113A"/>
<rect x="393.95" y="214.75" width="3.30" height="3.30" fill="#A3113A"/>
<rect x="397.75" y="217.65" width="3.30" height="3.30" fill="#A3113A"/>
<rect x="398.75" y="222.95" width="3.30" height="3.30" fill="#A3113A"/>
<rect x="398.75" y="226.85" width="3.30" height="3.30" fill="#A3113A"/>
<rect x="391.65" y="222.95" width="3.30" height="3.30" fill="#A3113A"/>
<rect x="392.55" y="226.35" width="3.30" height="3.30" fill="#A3113A"/>
<rect x="420.45" y="220.85" width="3.30" height="3.30" fill="#A3113A"/>
<rect x="417.55" y="227.25" width="3.30" height="3.30" fill="#A3113A"/>
<rect x="422.55" y="228.35" width="3.30" height="3.30" fill="#A3113A"/>
<rect x="411.25" y="231.65" width="3.30" height="3.30" fill="#A3113A"/>
<rect x="420.05" y="236.05" width="3.30" height="3.30" fill="#A3113A"/>
<rect x="426.25" y="237.55" width="3.30" height="3.30" fill="#A3113A"/>
<rect x="431.45" y="238.75" width="3.30" height="3.30" fill="#A3113A"/>
<rect x="416.35" y="240.35" width="3.30" height="3.30" fill="#A3113A"/>
<rect x="419.85" y="243.55" width="3.30" height="3.30" fill="#A3113A"/>
<rect x="424.35" y="244.35" width="3.30" height="3.30" fill="#A3113A"/>
<rect x="427.85" y="246.85" width="3.30" height="3.30" fill="#A3113A"/>
<rect x="422.55" y="249.65" width="3.30" height="3.30" fill="#A3113A"/>
<rect x="429.65" y="250.35" width="3.30" height="3.30" fill="#A3113A"/>
<rect x="415.05" y="251.85" width="3.30" height="3.30" fill="#A3113A"/>
<rect x="423.05" y="255.85" width="3.30" height="3.30" fill="#A3113A"/>
<rect x="430.05" y="255.25" width="3.30" height="3.30" fill="#A3113A"/>
<rect x="404.65" y="262.15" width="3.30" height="3.30" fill="#A3113A"/>
<rect x="417.15" y="263.35" width="3.30" height="3.30" fill="#A3113A"/>
<rect x="394.35" y="256.35" width="3.30" height="3.30" fill="#A3113A"/>
<rect x="392.35" y="259.35" width="3.30" height="3.30" fill="#A3113A"/>
<rect x="389.35" y="252.35" width="3.30" height="3.30" fill="#A3113A"/>
<rect x="382.35" y="249.35" width="3.30" height="3.30" fill="#A3113A"/>
<rect x="378.35" y="245.35" width="3.30" height="3.30" fill="#A3113A"/>
<rect x="384.35" y="234.35" width="3.30" height="3.30" fill="#A3113A"/>
<rect x="387.35" y="231.35" width="3.30" height="3.30" fill="#A3113A"/>
<rect x="396.80" y="242.35" width="3.30" height="3.30" fill="#A3113A"/>
<rect x="399.98" y="239.23" width="3.30" height="3.30" fill="#A3113A"/>
<rect x="394.93" y="235.39" width="3.30" height="3.30" fill="#A3113A"/>
<rect x="406.22" y="250.25" width="3.30" height="3.30" fill="#A3113A"/>
<rect x="406.36" y="249.10" width="3.30" height="3.30" fill="#A3113A"/>
<rect x="402.31" y="244.97" width="3.30" height="3.30" fill="#A3113A"/>
<rect x="386.16" y="235.22" width="3.30" height="3.30" fill="#A3113A"/>
<rect x="401.92" y="246.90" width="3.30" height="3.30" fill="#A3113A"/>
<rect x="395.39" y="224.68" width="3.30" height="3.30" fill="#A3113A"/>
<rect x="396.12" y="234.61" width="3.30" height="3.30" fill="#A3113A"/>
<rect x="402.55" y="243.51" width="3.30" height="3.30" fill="#A3113A"/>
<rect x="406.14" y="242.43" width="3.30" height="3.30" fill="#A3113A"/>
<rect x="400.98" y="245.29" width="3.30" height="3.30" fill="#A3113A"/>
<rect x="389.73" y="244.73" width="3.30" height="3.30" fill="#A3113A"/>
<rect x="399.73" y="249.99" width="3.30" height="3.30" fill="#A3113A"/>
<rect x="398.89" y="235.15" width="3.30" height="3.30" fill="#A3113A"/>
<rect x="398.44" y="239.35" width="3.30" height="3.30" fill="#A3113A"/>
<rect x="403.66" y="246.65" width="3.30" height="3.30" fill="#A3113A"/>
<rect x="400.83" y="235.33" width="3.30" height="3.30" fill="#A3113A"/>
<rect x="392.47" y="243.59" width="3.30" height="3.30" fill="#A3113A"/>
<rect x="394.08" y="237.96" width="3.30" height="3.30" fill="#A3113A"/>
<rect x="408.58" y="238.47" width="3.30" height="3.30" fill="#A3113A"/>
<rect x="395.95" y="247.36" width="3.30" height="3.30" fill="#A3113A"/>
<rect x="388.10" y="228.42" width="3.30" height="3.30" fill="#A3113A"/>
<rect x="402.60" y="237.94" width="3.30" height="3.30" fill="#A3113A"/>
<rect x="403.89" y="244.60" width="3.30" height="3.30" fill="#A3113A"/>
<rect x="387.60" y="236.33" width="3.30" height="3.30" fill="#A3113A"/>
<rect x="401.39" y="249.67" width="3.30" height="3.30" fill="#A3113A"/>
<rect x="408.63" y="251.98" width="3.30" height="3.30" fill="#A3113A"/>
<rect x="405.84" y="237.38" width="3.30" height="3.30" fill="#A3113A"/>
<rect x="406.66" y="243.12" width="3.30" height="3.30" fill="#A3113A"/>
<rect x="401.91" y="234.07" width="3.30" height="3.30" fill="#A3113A"/>
<rect x="395.83" y="233.89" width="3.30" height="3.30" fill="#A3113A"/>
<rect x="416.28" y="241.50" width="3.30" height="3.30" fill="#A3113A"/>
<rect x="389.78" y="234.02" width="3.30" height="3.30" fill="#A3113A"/>
<rect x="407.87" y="252.87" width="3.30" height="3.30" fill="#A3113A"/>
<rect x="396.81" y="220.33" width="3.30" height="3.30" fill="#A3113A"/>
<rect x="405.39" y="241.06" width="3.30" height="3.30" fill="#A3113A"/>
<rect x="389.36" y="239.00" width="3.30" height="3.30" fill="#A3113A"/>
<rect x="407.12" y="249.12" width="3.30" height="3.30" fill="#A3113A"/>
<rect x="400.42" y="245.07" width="3.30" height="3.30" fill="#A3113A"/>
<rect x="408.73" y="253.94" width="3.30" height="3.30" fill="#A3113A"/>
<rect x="401.82" y="247.17" width="3.30" height="3.30" fill="#A3113A"/>
<rect x="385.27" y="237.51" width="3.30" height="3.30" fill="#A3113A"/>
<rect x="404.79" y="249.73" width="3.30" height="3.30" fill="#A3113A"/>
<rect x="389.50" y="227.42" width="3.30" height="3.30" fill="#A3113A"/>
<rect x="412.51" y="239.69" width="3.30" height="3.30" fill="#A3113A"/>
<rect x="395.44" y="244.81" width="3.30" height="3.30" fill="#A3113A"/>
<rect x="385.79" y="240.38" width="3.30" height="3.30" fill="#A3113A"/>
<rect x="404.57" y="244.58" width="3.30" height="3.30" fill="#A3113A"/>
<rect x="400.16" y="246.41" width="3.30" height="3.30" fill="#A3113A"/>
<rect x="397.01" y="247.15" width="3.30" height="3.30" fill="#A3113A"/>
<rect x="397.44" y="236.20" width="3.30" height="3.30" fill="#A3113A"/>
<rect x="407.19" y="248.24" width="3.30" height="3.30" fill="#A3113A"/>
<rect x="391.06" y="240.32" width="3.30" height="3.30" fill="#A3113A"/>
<rect x="411.72" y="248.91" width="3.30" height="3.30" fill="#A3113A"/>
<rect x="391.65" y="232.99" width="3.30" height="3.30" fill="#A3113A"/>
<rect x="400.44" y="239.76" width="3.30" height="3.30" fill="#A3113A"/>
<rect x="413.42" y="246.22" width="3.30" height="3.30" fill="#A3113A"/>
<rect x="413.33" y="244.38" width="3.30" height="3.30" fill="#A3113A"/>
<rect x="392.82" y="239.63" width="3.30" height="3.30" fill="#A3113A"/>
<rect x="404.76" y="252.09" width="3.30" height="3.30" fill="#A3113A"/>
<rect x="402.13" y="244.50" width="3.30" height="3.30" fill="#A3113A"/>
<rect x="399.28" y="245.07" width="3.30" height="3.30" fill="#A3113A"/>
<rect x="398.17" y="241.90" width="3.30" height="3.30" fill="#A3113A"/>
<rect x="404.16" y="245.31" width="3.30" height="3.30" fill="#A3113A"/>
<rect x="403.39" y="248.72" width="3.30" height="3.30" fill="#A3113A"/>
<rect x="412.57" y="255.27" width="3.30" height="3.30" fill="#A3113A"/>
<rect x="398.85" y="237.78" width="3.30" height="3.30" fill="#A3113A"/>
<rect x="396.92" y="245.46" width="3.30" height="3.30" fill="#A3113A"/>
<rect x="396.71" y="241.36" width="3.30" height="3.30" fill="#A3113A"/>
<rect x="421.87" y="242.68" width="3.30" height="3.30" fill="#A3113A"/>
<rect x="391.98" y="236.05" width="3.30" height="3.30" fill="#A3113A"/>
<rect x="402.14" y="245.21" width="3.30" height="3.30" fill="#A3113A"/>
<rect x="395.11" y="241.87" width="3.30" height="3.30" fill="#A3113A"/>
<rect x="404.12" y="241.47" width="3.30" height="3.30" fill="#A3113A"/>
<rect x="415.25" y="257.92" width="3.30" height="3.30" fill="#A3113A"/>
<rect x="397.02" y="238.11" width="3.30" height="3.30" fill="#A3113A"/>
<rect x="399.07" y="240.24" width="3.30" height="3.30" fill="#A3113A"/>
<rect x="383.94" y="223.45" width="3.30" height="3.30" fill="#A3113A"/>
<rect x="411.29" y="243.26" width="3.30" height="3.30" fill="#A3113A"/>
<rect x="396.46" y="245.26" width="3.30" height="3.30" fill="#A3113A"/>
<rect x="400.66" y="252.97" width="3.30" height="3.30" fill="#A3113A"/>
<rect x="390.30" y="230.18" width="3.30" height="3.30" fill="#A3113A"/>
<rect x="395.82" y="242.28" width="3.30" height="3.30" fill="#A3113A"/>
<rect x="417.33" y="237.71" width="3.30" height="3.30" fill="#A3113A"/>
<rect x="412.84" y="242.63" width="3.30" height="3.30" fill="#A3113A"/>
<rect x="410.30" y="240.01" width="3.30" height="3.30" fill="#A3113A"/>
<rect x="397.20" y="247.68" width="3.30" height="3.30" fill="#A3113A"/>
<rect x="398.66" y="241.71" width="3.30" height="3.30" fill="#A3113A"/>
<rect x="405.15" y="247.22" width="3.30" height="3.30" fill="#A3113A"/>
<rect x="394.21" y="247.44" width="3.30" height="3.30" fill="#A3113A"/>
<rect x="408.40" y="247.00" width="3.30" height="3.30" fill="#A3113A"/>
<rect x="422.78" y="253.82" width="3.30" height="3.30" fill="#A3113A"/>
<rect x="407.40" y="246.30" width="3.30" height="3.30" fill="#A3113A"/>
<rect x="398.68" y="245.47" width="3.30" height="3.30" fill="#A3113A"/>
<rect x="399.52" y="245.74" width="3.30" height="3.30" fill="#A3113A"/>
<rect x="395.64" y="226.61" width="3.30" height="3.30" fill="#A3113A"/>
<rect x="407.93" y="241.71" width="3.30" height="3.30" fill="#A3113A"/>
<rect x="398.83" y="229.78" width="3.30" height="3.30" fill="#A3113A"/>
<rect x="406.08" y="252.47" width="3.30" height="3.30" fill="#A3113A"/>
<rect x="413.55" y="246.99" width="3.30" height="3.30" fill="#A3113A"/>
<rect x="404.48" y="237.30" width="3.30" height="3.30" fill="#A3113A"/>
<rect x="399.70" y="252.82" width="3.30" height="3.30" fill="#A3113A"/>
<rect x="388.78" y="242.72" width="3.30" height="3.30" fill="#A3113A"/>
<rect x="407.57" y="247.10" width="3.30" height="3.30" fill="#A3113A"/>
<rect x="382.13" y="235.58" width="3.30" height="3.30" fill="#A3113A"/>
<rect x="401.89" y="238.86" width="3.30" height="3.30" fill="#A3113A"/>
<rect x="401.53" y="245.90" width="3.30" height="3.30" fill="#A3113A"/>
<rect x="414.02" y="246.81" width="3.30" height="3.30" fill="#A3113A"/>
<rect x="402.54" y="254.65" width="3.30" height="3.30" fill="#A3113A"/>
<rect x="410.68" y="249.89" width="3.30" height="3.30" fill="#A3113A"/>
<rect x="391.71" y="241.43" width="3.30" height="3.30" fill="#A3113A"/>
<rect x="400.67" y="243.04" width="3.30" height="3.30" fill="#A3113A"/>
<rect x="410.79" y="249.39" width="3.30" height="3.30" fill="#A3113A"/>
<rect x="386.45" y="226.45" width="3.30" height="3.30" fill="#A3113A"/>
<rect x="385.04" y="233.94" width="3.30" height="3.30" fill="#A3113A"/>
<rect x="404.67" y="241.32" width="3.30" height="3.30" fill="#A3113A"/>
<rect x="397.27" y="245.12" width="3.30" height="3.30" fill="#A3113A"/>
<rect x="396.08" y="247.63" width="3.30" height="3.30" fill="#A3113A"/>
<rect x="396.18" y="245.64" width="3.30" height="3.30" fill="#A3113A"/>
<rect x="404.46" y="257.28" width="3.30" height="3.30" fill="#A3113A"/>
<rect x="392.69" y="241.32" width="3.30" height="3.30" fill="#A3113A"/>
<rect x="391.78" y="226.21" width="3.30" height="3.30" fill="#A3113A"/>
<rect x="383.41" y="234.29" width="3.30" height="3.30" fill="#A3113A"/>
<line x1="361.50" y1="229.20" x2="474.60" y2="263.50" stroke="#444" stroke-width="1"/>
<text x="465.50" y="272.60" font-size="7.9" text-anchor="start" fill="#222">r<tspan font-size="5.4" dy="-2.5">2</tspan><tspan dy="2.5">= 0.230</tspan></text>
<text x="465.50" y="281.40" font-size="7.9" text-anchor="start" fill="#222">p= &lt;0.0001</text>
<text x="429.70" y="296.50" font-size="9.6" text-anchor="middle" fill="#222" font-weight="bold" textLength="94" lengthAdjust="spacingAndGlyphs">alum / TLR4 fold change (log<tspan font-size="5.5" dy="1.8">2</tspan><tspan dy="-1.8">)</tspan></text>
<text x="347.80" y="244.30" font-size="9.6" text-anchor="middle" fill="#222" font-weight="bold" textLength="94.5" lengthAdjust="spacingAndGlyphs" transform="rotate(-90 347.80 244.30)">alum / TLR7 fold change (log<tspan font-size="5.5" dy="1.8">2</tspan><tspan dy="-1.8">)</tspan></text>
<text x="437.80" y="328.30" font-size="9.45" text-anchor="middle" fill="#1a1a1a" stroke="#1a1a1a" stroke-width="0.1">Effect of TLR 4 or 7 on</text>
<text x="437.80" y="340.10" font-size="9.45" text-anchor="middle" fill="#1a1a1a" stroke="#1a1a1a" stroke-width="0.1">MF59-regulated modules</text>
<line x1="365.50" y1="346.00" x2="365.50" y2="437.00" stroke="#000" stroke-width="1.1"/>
<line x1="361.80" y1="348.50" x2="365.20" y2="348.50" stroke="#000" stroke-width="1"/>
<text x="358.60" y="350.90" font-size="7.9" text-anchor="end" fill="#222">3</text>
<line x1="361.80" y1="365.50" x2="365.20" y2="365.50" stroke="#000" stroke-width="1"/>
<text x="358.60" y="368.20" font-size="7.9" text-anchor="end" fill="#222">2</text>
<line x1="361.80" y1="382.50" x2="365.20" y2="382.50" stroke="#000" stroke-width="1"/>
<text x="358.60" y="385.50" font-size="7.9" text-anchor="end" fill="#222">1</text>
<line x1="361.80" y1="400.50" x2="365.20" y2="400.50" stroke="#000" stroke-width="1"/>
<text x="358.60" y="402.80" font-size="7.9" text-anchor="end" fill="#222">0</text>
<line x1="361.80" y1="417.50" x2="365.20" y2="417.50" stroke="#000" stroke-width="1"/>
<text x="358.60" y="420.10" font-size="7.9" text-anchor="end" fill="#222">-1</text>
<line x1="361.80" y1="434.50" x2="365.20" y2="434.50" stroke="#000" stroke-width="1"/>
<text x="358.60" y="437.40" font-size="7.9" text-anchor="end" fill="#222">-2</text>
<line x1="365.20" y1="400.50" x2="509.60" y2="400.50" stroke="#000" stroke-width="1.1"/>
<line x1="393.50" y1="400.20" x2="393.50" y2="403.50" stroke="#000" stroke-width="1"/>
<text x="393.60" y="413.30" font-size="7.9" text-anchor="middle" fill="#222">0.2</text>
<line x1="422.50" y1="400.20" x2="422.50" y2="403.50" stroke="#000" stroke-width="1"/>
<text x="422.00" y="413.30" font-size="7.9" text-anchor="middle" fill="#222">0.4</text>
<line x1="450.50" y1="400.20" x2="450.50" y2="403.50" stroke="#000" stroke-width="1"/>
<text x="450.40" y="413.30" font-size="7.9" text-anchor="middle" fill="#222">0.6</text>
<line x1="478.50" y1="400.20" x2="478.50" y2="403.50" stroke="#000" stroke-width="1"/>
<text x="478.80" y="413.30" font-size="7.9" text-anchor="middle" fill="#222">0.8</text>
<line x1="507.50" y1="400.20" x2="507.50" y2="403.50" stroke="#000" stroke-width="1"/>
<text x="507.20" y="413.30" font-size="7.9" text-anchor="middle" fill="#222">1.0</text>
<circle cx="413.20" cy="386.20" r="1.7" fill="#A8661E"/>
<circle cx="455.40" cy="386.20" r="1.7" fill="#A8661E"/>
<circle cx="477.70" cy="368.50" r="1.7" fill="#A8661E"/>
<circle cx="471.90" cy="398.50" r="1.7" fill="#A8661E"/>
<circle cx="450.00" cy="402.30" r="1.7" fill="#A8661E"/>
<line x1="414.00" y1="392.60" x2="477.70" y2="385.20" stroke="#444" stroke-width="1"/>
<text x="470.80" y="428.00" font-size="7.9" text-anchor="start" fill="#222">r<tspan font-size="5.4" dy="-2.5">2</tspan><tspan dy="2.5">= 0.041</tspan></text>
<text x="470.80" y="436.80" font-size="7.9" text-anchor="start" fill="#222">p= 0.683</text>
<text x="436.90" y="452.70" font-size="9.6" text-anchor="middle" fill="#222" font-weight="bold" textLength="91" lengthAdjust="spacingAndGlyphs">ANE / TLR4 fold change (log<tspan font-size="5.5" dy="1.8">2</tspan><tspan dy="-1.8">)</tspan></text>
<text x="346.60" y="391.60" font-size="9.6" text-anchor="middle" fill="#222" font-weight="bold" textLength="92.8" lengthAdjust="spacingAndGlyphs" transform="rotate(-90 346.60 391.60)">ANE / TLR7 fold change (log<tspan font-size="5.5" dy="1.8">2</tspan><tspan dy="-1.8">)</tspan></text>
<text x="431.40" y="480.10" font-size="9.45" text-anchor="middle" fill="#1a1a1a" stroke="#1a1a1a" stroke-width="0.1">Effect of TLR 4 or 7 on</text>
<text x="431.40" y="492.10" font-size="9.45" text-anchor="middle" fill="#1a1a1a" stroke="#1a1a1a" stroke-width="0.1">MF59-regulated genes</text>
<line x1="394.50" y1="498.50" x2="394.50" y2="592.80" stroke="#000" stroke-width="1.1"/>
<line x1="391.50" y1="505.50" x2="394.90" y2="505.50" stroke="#000" stroke-width="1"/>
<text x="389.60" y="508.35" font-size="7.9" text-anchor="end" fill="#222">3</text>
<line x1="391.50" y1="521.50" x2="394.90" y2="521.50" stroke="#000" stroke-width="1"/>
<text x="389.60" y="524.10" font-size="7.9" text-anchor="end" fill="#222">2</text>
<line x1="391.50" y1="537.50" x2="394.90" y2="537.50" stroke="#000" stroke-width="1"/>
<text x="389.60" y="539.85" font-size="7.9" text-anchor="end" fill="#222">1</text>
<line x1="391.50" y1="568.50" x2="394.90" y2="568.50" stroke="#000" stroke-width="1"/>
<text x="389.60" y="571.35" font-size="7.9" text-anchor="end" fill="#222">-2</text>
<line x1="391.50" y1="584.50" x2="394.90" y2="584.50" stroke="#000" stroke-width="1"/>
<text x="389.60" y="587.10" font-size="7.9" text-anchor="end" fill="#222">-3</text>
<line x1="356.50" y1="553.50" x2="505.60" y2="553.50" stroke="#000" stroke-width="1.1"/>
<line x1="358.50" y1="553.00" x2="358.50" y2="556.30" stroke="#000" stroke-width="1"/>
<text x="358.80" y="566.00" font-size="7.9" text-anchor="middle" fill="#222">-1</text>
<line x1="431.50" y1="553.00" x2="431.50" y2="556.30" stroke="#000" stroke-width="1"/>
<text x="431.00" y="566.00" font-size="7.9" text-anchor="middle" fill="#222">1</text>
<line x1="467.50" y1="553.00" x2="467.50" y2="556.30" stroke="#000" stroke-width="1"/>
<text x="467.10" y="566.00" font-size="7.9" text-anchor="middle" fill="#222">2</text>
<line x1="503.50" y1="553.00" x2="503.50" y2="556.30" stroke="#000" stroke-width="1"/>
<text x="503.20" y="566.00" font-size="7.9" text-anchor="middle" fill="#222">3</text>
<polygon points="428.70,500.55 430.85,502.70 428.70,504.85 426.55,502.70" fill="#AC681A"/>
<polygon points="437.30,520.15 439.45,522.30 437.30,524.45 435.15,522.30" fill="#AC681A"/>
<polygon points="461.30,517.85 463.45,520.00 461.30,522.15 459.15,520.00" fill="#AC681A"/>
<polygon points="473.50,518.85 475.65,521.00 473.50,523.15 471.35,521.00" fill="#AC681A"/>
<polygon points="468.10,534.15 470.25,536.30 468.10,538.45 465.95,536.30" fill="#AC681A"/>
<polygon points="449.80,541.85 451.95,544.00 449.80,546.15 447.65,544.00" fill="#AC681A"/>
<polygon points="433.80,539.95 435.95,542.10 433.80,544.25 431.65,542.10" fill="#AC681A"/>
<polygon points="429.20,534.75 431.35,536.90 429.20,539.05 427.05,536.90" fill="#AC681A"/>
<polygon points="453.10,567.85 455.25,570.00 453.10,572.15 450.95,570.00" fill="#AC681A"/>
<polygon points="427.70,549.55 429.85,551.70 427.70,553.85 425.55,551.70" fill="#AC681A"/>
<polygon points="405.00,511.85 407.15,514.00 405.00,516.15 402.85,514.00" fill="#AC681A"/>
<polygon points="418.00,517.85 420.15,520.00 418.00,522.15 415.85,520.00" fill="#AC681A"/>
<polygon points="417.00,523.35 419.15,525.50 417.00,527.65 414.85,525.50" fill="#AC681A"/>
<polygon points="418.00,528.35 420.15,530.50 418.00,532.65 415.85,530.50" fill="#AC681A"/>
<polygon points="414.00,531.85 416.15,534.00 414.00,536.15 411.85,534.00" fill="#AC681A"/>
<polygon points="373.50,538.35 375.65,540.50 373.50,542.65 371.35,540.50" fill="#AC681A"/>
<polygon points="374.50,537.85 376.65,540.00 374.50,542.15 372.35,540.00" fill="#AC681A"/>
<polygon points="377.00,554.85 379.15,557.00 377.00,559.15 374.85,557.00" fill="#AC681A"/>
<polygon points="384.00,542.85 386.15,545.00 384.00,547.15 381.85,545.00" fill="#AC681A"/>
<polygon points="388.00,543.35 390.15,545.50 388.00,547.65 385.85,545.50" fill="#AC681A"/>
<polygon points="392.00,552.85 394.15,555.00 392.00,557.15 389.85,555.00" fill="#AC681A"/>
<polygon points="389.50,559.85 391.65,562.00 389.50,564.15 387.35,562.00" fill="#AC681A"/>
<polygon points="388.00,562.35 390.15,564.50 388.00,566.65 385.85,564.50" fill="#AC681A"/>
<polygon points="403.00,555.35 405.15,557.50 403.00,559.65 400.85,557.50" fill="#AC681A"/>
<polygon points="406.00,558.85 408.15,561.00 406.00,563.15 403.85,561.00" fill="#AC681A"/>
<polygon points="408.50,558.85 410.65,561.00 408.50,563.15 406.35,561.00" fill="#AC681A"/>
<polygon points="412.00,559.85 414.15,562.00 412.00,564.15 409.85,562.00" fill="#AC681A"/>
<polygon points="415.00,554.85 417.15,557.00 415.00,559.15 412.85,557.00" fill="#AC681A"/>
<polygon points="419.00,558.85 421.15,561.00 419.00,563.15 416.85,561.00" fill="#AC681A"/>
<polygon points="405.94,545.85 408.09,548.00 405.94,550.15 403.79,548.00" fill="#AC681A"/>
<polygon points="401.22,544.92 403.37,547.07 401.22,549.22 399.07,547.07" fill="#AC681A"/>
<polygon points="404.31,540.41 406.46,542.56 404.31,544.71 402.16,542.56" fill="#AC681A"/>
<polygon points="414.24,541.92 416.39,544.07 414.24,546.22 412.09,544.07" fill="#AC681A"/>
<polygon points="405.30,543.98 407.45,546.13 405.30,548.28 403.15,546.13" fill="#AC681A"/>
<polygon points="410.68,541.24 412.83,543.39 410.68,545.54 408.53,543.39" fill="#AC681A"/>
<polygon points="408.20,537.84 410.35,539.99 408.20,542.14 406.05,539.99" fill="#AC681A"/>
<polygon points="403.81,539.77 405.96,541.92 403.81,544.07 401.66,541.92" fill="#AC681A"/>
<polygon points="399.37,535.92 401.52,538.07 399.37,540.22 397.22,538.07" fill="#AC681A"/>
<polygon points="398.02,540.49 400.17,542.64 398.02,544.79 395.87,542.64" fill="#AC681A"/>
<polygon points="404.71,540.20 406.86,542.35 404.71,544.50 402.56,542.35" fill="#AC681A"/>
<polygon points="405.82,536.54 407.97,538.69 405.82,540.84 403.67,538.69" fill="#AC681A"/>
<polygon points="405.13,542.21 407.28,544.36 405.13,546.51 402.98,544.36" fill="#AC681A"/>
<polygon points="408.95,538.30 411.10,540.45 408.95,542.60 406.80,540.45" fill="#AC681A"/>
<polygon points="403.66,534.10 405.81,536.25 403.66,538.40 401.51,536.25" fill="#AC681A"/>
<polygon points="403.18,533.44 405.33,535.59 403.18,537.74 401.03,535.59" fill="#AC681A"/>
<polygon points="398.97,545.32 401.12,547.47 398.97,549.62 396.82,547.47" fill="#AC681A"/>
<polygon points="395.37,544.22 397.52,546.37 395.37,548.52 393.22,546.37" fill="#AC681A"/>
<polygon points="407.01,540.23 409.16,542.38 407.01,544.53 404.86,542.38" fill="#AC681A"/>
<polygon points="407.61,543.25 409.76,545.40 407.61,547.55 405.46,545.40" fill="#AC681A"/>
<polygon points="410.31,540.52 412.46,542.67 410.31,544.82 408.16,542.67" fill="#AC681A"/>
<polygon points="402.78,539.17 404.93,541.32 402.78,543.47 400.63,541.32" fill="#AC681A"/>
<polygon points="400.96,541.19 403.11,543.34 400.96,545.49 398.81,543.34" fill="#AC681A"/>
<polygon points="401.89,545.20 404.04,547.35 401.89,549.50 399.74,547.35" fill="#AC681A"/>
<polygon points="396.90,537.41 399.05,539.56 396.90,541.71 394.75,539.56" fill="#AC681A"/>
<polygon points="401.12,533.82 403.27,535.97 401.12,538.12 398.97,535.97" fill="#AC681A"/>
<polygon points="414.25,532.68 416.40,534.83 414.25,536.98 412.10,534.83" fill="#AC681A"/>
<polygon points="404.20,539.46 406.35,541.61 404.20,543.76 402.05,541.61" fill="#AC681A"/>
<polygon points="413.12,534.20 415.27,536.35 413.12,538.50 410.97,536.35" fill="#AC681A"/>
<polygon points="410.43,538.72 412.58,540.87 410.43,543.02 408.28,540.87" fill="#AC681A"/>
<polygon points="404.79,538.93 406.94,541.08 404.79,543.23 402.64,541.08" fill="#AC681A"/>
<polygon points="408.45,537.25 410.60,539.40 408.45,541.55 406.30,539.40" fill="#AC681A"/>
<polygon points="405.14,542.62 407.29,544.77 405.14,546.92 402.99,544.77" fill="#AC681A"/>
<polygon points="413.97,532.69 416.12,534.84 413.97,536.99 411.82,534.84" fill="#AC681A"/>
<polygon points="412.52,544.76 414.67,546.91 412.52,549.06 410.37,546.91" fill="#AC681A"/>
<polygon points="403.28,542.45 405.43,544.60 403.28,546.75 401.13,544.60" fill="#AC681A"/>
<polygon points="403.36,547.28 405.51,549.43 403.36,551.58 401.21,549.43" fill="#AC681A"/>
<polygon points="406.46,540.57 408.61,542.72 406.46,544.87 404.31,542.72" fill="#AC681A"/>
<polygon points="404.45,540.63 406.60,542.78 404.45,544.93 402.30,542.78" fill="#AC681A"/>
<polygon points="404.69,538.19 406.84,540.34 404.69,542.49 402.54,540.34" fill="#AC681A"/>
<polygon points="414.97,534.47 417.12,536.62 414.97,538.77 412.82,536.62" fill="#AC681A"/>
<polygon points="388.91,540.91 391.06,543.06 388.91,545.21 386.76,543.06" fill="#AC681A"/>
<polygon points="404.83,542.69 406.98,544.84 404.83,546.99 402.68,544.84" fill="#AC681A"/>
<polygon points="404.56,540.82 406.71,542.97 404.56,545.12 402.41,542.97" fill="#AC681A"/>
<polygon points="407.03,544.84 409.18,546.99 407.03,549.14 404.88,546.99" fill="#AC681A"/>
<polygon points="403.44,540.01 405.59,542.16 403.44,544.31 401.29,542.16" fill="#AC681A"/>
<polygon points="414.43,543.26 416.58,545.41 414.43,547.56 412.28,545.41" fill="#AC681A"/>
<polygon points="400.97,549.72 403.12,551.87 400.97,554.02 398.82,551.87" fill="#AC681A"/>
<polygon points="409.07,539.23 411.22,541.38 409.07,543.53 406.92,541.38" fill="#AC681A"/>
<polygon points="400.10,542.42 402.25,544.57 400.10,546.72 397.95,544.57" fill="#AC681A"/>
<polygon points="401.67,537.54 403.82,539.69 401.67,541.84 399.52,539.69" fill="#AC681A"/>
<polygon points="399.54,539.53 401.69,541.68 399.54,543.83 397.39,541.68" fill="#AC681A"/>
<polygon points="410.59,539.79 412.74,541.94 410.59,544.09 408.44,541.94" fill="#AC681A"/>
<polygon points="398.83,543.76 400.98,545.91 398.83,548.06 396.68,545.91" fill="#AC681A"/>
<polygon points="405.80,544.39 407.95,546.54 405.80,548.69 403.65,546.54" fill="#AC681A"/>
<polygon points="411.03,540.74 413.18,542.89 411.03,545.04 408.88,542.89" fill="#AC681A"/>
<polygon points="404.83,541.19 406.98,543.34 404.83,545.49 402.68,543.34" fill="#AC681A"/>
<polygon points="400.28,543.76 402.43,545.91 400.28,548.06 398.13,545.91" fill="#AC681A"/>
<polygon points="411.81,541.98 413.96,544.13 411.81,546.28 409.66,544.13" fill="#AC681A"/>
<polygon points="404.41,540.41 406.56,542.56 404.41,544.71 402.26,542.56" fill="#AC681A"/>
<polygon points="413.57,551.97 415.72,554.12 413.57,556.27 411.42,554.12" fill="#AC681A"/>
<polygon points="411.28,546.66 413.43,548.81 411.28,550.96 409.13,548.81" fill="#AC681A"/>
<polygon points="409.40,546.89 411.55,549.04 409.40,551.19 407.25,549.04" fill="#AC681A"/>
<polygon points="420.47,556.18 422.62,558.33 420.47,560.48 418.32,558.33" fill="#AC681A"/>
<polygon points="414.69,552.48 416.84,554.63 414.69,556.78 412.54,554.63" fill="#AC681A"/>
<polygon points="410.00,550.14 412.15,552.29 410.00,554.44 407.85,552.29" fill="#AC681A"/>
<polygon points="409.36,550.35 411.51,552.50 409.36,554.65 407.21,552.50" fill="#AC681A"/>
<polygon points="405.16,545.06 407.31,547.21 405.16,549.36 403.01,547.21" fill="#AC681A"/>
<polygon points="411.81,551.31 413.96,553.46 411.81,555.61 409.66,553.46" fill="#AC681A"/>
<polygon points="410.96,549.48 413.11,551.63 410.96,553.78 408.81,551.63" fill="#AC681A"/>
<polygon points="417.83,552.92 419.98,555.07 417.83,557.22 415.68,555.07" fill="#AC681A"/>
<polygon points="412.48,547.46 414.63,549.61 412.48,551.76 410.33,549.61" fill="#AC681A"/>
<polygon points="419.64,554.74 421.79,556.89 419.64,559.04 417.49,556.89" fill="#AC681A"/>
<polygon points="417.33,550.61 419.48,552.76 417.33,554.91 415.18,552.76" fill="#AC681A"/>
<polygon points="411.49,549.14 413.64,551.29 411.49,553.44 409.34,551.29" fill="#AC681A"/>
<polygon points="410.67,544.88 412.82,547.03 410.67,549.18 408.52,547.03" fill="#AC681A"/>
<line x1="374.00" y1="550.20" x2="471.90" y2="533.50" stroke="#555" stroke-width="1"/>
<text x="467.10" y="581.20" font-size="7.9" text-anchor="start" fill="#222">r<tspan font-size="5.4" dy="-2.5">2</tspan><tspan dy="2.5">= 0.072</tspan></text>
<text x="467.10" y="589.90" font-size="7.9" text-anchor="start" fill="#222">p= 0.102</text>
<text x="430.40" y="607.50" font-size="9.6" text-anchor="middle" fill="#222" font-weight="bold" textLength="91" lengthAdjust="spacingAndGlyphs">ANE / TLR4 fold change (log<tspan font-size="5.5" dy="1.8">2</tspan><tspan dy="-1.8">)</tspan></text>
<text x="346.80" y="543.40" font-size="9.6" text-anchor="middle" fill="#222" font-weight="bold" textLength="93.7" lengthAdjust="spacingAndGlyphs" transform="rotate(-90 346.80 543.40)">ANE / TLR7 fold change (log<tspan font-size="5.5" dy="1.8">2</tspan><tspan dy="-1.8">)</tspan></text>
<rect x="0.5" y="0.5" width="519" height="619" fill="none" stroke="#000" stroke-width="1"/>
</svg>
</body></html>
